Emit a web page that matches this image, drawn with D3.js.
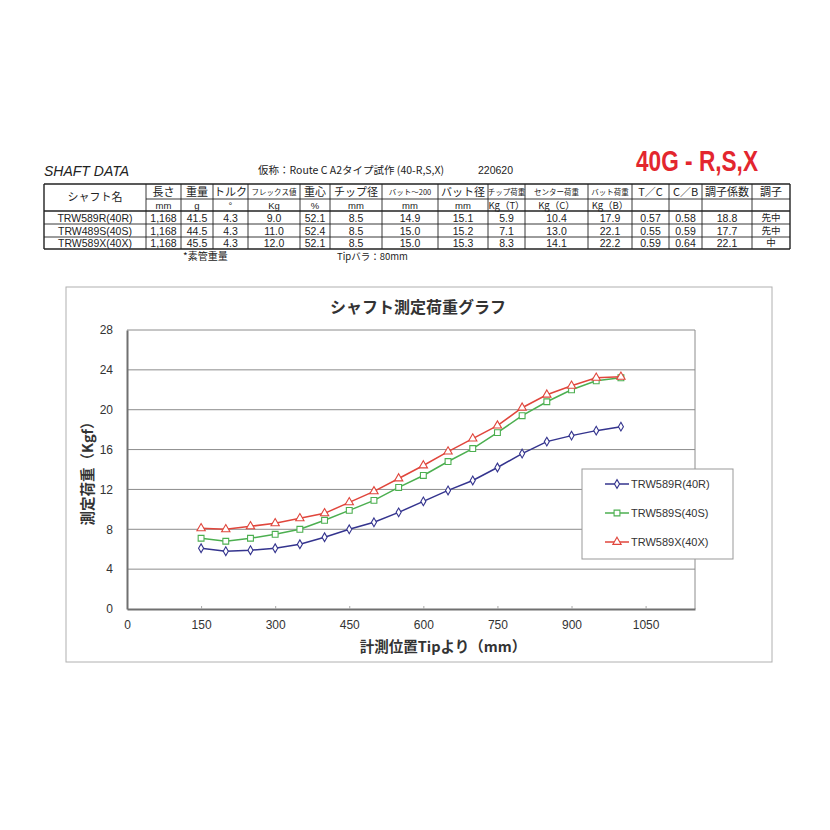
<!DOCTYPE html>
<html>
<head>
<meta charset="utf-8">
<script src="https://cdn.jsdelivr.net/npm/d3@7"></script>
<style>
  body { margin: 0; background: #fff; }
  svg { display: block; }
</style>
</head>
<body>
<svg id="chart" width="830" height="830"></svg>
<script>
// --- table data ---
const header1 = ['シャフト名', '長さ', '重量', 'トルク', 'フレックス値', '重心', 'チップ径', 'バット～200', 'バット径', 'チップ荷重', 'センター荷重', 'バット荷重', 'T／C', 'C／B', '調子係数', '調子'];
const header2 = ['', 'mm', 'g', '°', 'Kg', '%', 'mm', 'mm', 'mm', 'Kg（T）', 'Kg（C）', 'Kg（B）', '', '', '', ''];
const tableRows = [
  ['TRW589R(40R)', '1,168', '41.5', '4.3', '9.0', '52.1', '8.5', '14.9', '15.1', '5.9', '10.4', '17.9', '0.57', '0.58', '18.8', '先中'],
  ['TRW489S(40S)', '1,168', '44.5', '4.3', '11.0', '52.4', '8.5', '15.0', '15.2', '7.1', '13.0', '22.1', '0.55', '0.59', '17.7', '先中'],
  ['TRW589X(40X)', '1,168', '45.5', '4.3', '12.0', '52.1', '8.5', '15.0', '15.3', '8.3', '14.1', '22.2', '0.59', '0.64', '22.1', '中']
];
const smallHeads = ['フレックス値', 'バット～200', 'チップ荷重', 'センター荷重', 'バット荷重'];

// --- chart data ---
const positions = [150, 200, 250, 300, 350, 400, 450, 500, 550, 600, 650, 700, 750, 800, 850, 900, 950, 1000];
const seriesR = [6.1, 5.8, 5.9, 6.1, 6.5, 7.2, 8.0, 8.7, 9.7, 10.8, 11.9, 12.9, 14.2, 15.6, 16.8, 17.4, 17.9, 18.3];
const seriesS = [7.1, 6.8, 7.1, 7.5, 8.0, 8.9, 9.9, 10.9, 12.2, 13.4, 14.8, 16.1, 17.7, 19.4, 20.8, 22.0, 22.9, 23.2];
const seriesX = [8.1, 8.0, 8.3, 8.6, 9.1, 9.6, 10.7, 11.8, 13.1, 14.4, 15.8, 17.1, 18.4, 20.2, 21.5, 22.4, 23.2, 23.3];
const seriesNames = ['TRW589R(40R)', 'TRW589S(40S)', 'TRW589X(40X)'];
const xTicks = [0, 150, 300, 450, 600, 750, 900, 1050];
const yTicks = [0, 4, 8, 12, 16, 20, 24, 28];

const jp = '"Noto Sans CJK JP", "Noto Sans", sans-serif';
const lat = '"Liberation Sans", Arial, sans-serif';

const svg = d3.select('#chart');

// ---------- header texts ----------
svg.append('text')
  .attr('x', 44).attr('y', 176)
  .attr('font-family', lat).attr('font-style', 'italic')
  .attr('font-size', 14).attr('fill', '#222')
  .text('SHAFT DATA');

svg.append('text')
  .attr('x', 258).attr('y', 174)
  .attr('font-family', jp).attr('font-size', 10.5).attr('fill', '#222')
  .text('仮称：Route C A2タイプ試作 (40-R,S,X)');

svg.append('text')
  .attr('x', 478).attr('y', 174)
  .attr('font-family', lat).attr('font-size', 10.5).attr('fill', '#222')
  .text('220620');

svg.append('text')
  .attr('x', 636).attr('y', 171)
  .attr('font-family', '"Liberation Sans Narrow", "Liberation Sans", sans-serif')
  .attr('font-weight', 'bold').attr('font-size', 29).attr('fill', '#e3262e')
  .attr('textLength', 122).attr('lengthAdjust', 'spacingAndGlyphs')
  .text('40G - R,S,X');

// ---------- table ----------
const colEdges = [44, 146, 181, 213, 248, 300, 330, 382, 438, 488, 525, 588, 632, 669, 702, 752, 790];
const rowEdges = [184, 199, 211, 224, 237, 249];
const tbl = svg.append('g').attr('class', 'table');

// horizontal lines (no line under シャフト名 — it spans both header rows)
rowEdges.forEach((y, i) => {
  const x0 = i === 1 ? colEdges[1] : colEdges[0];
  tbl.append('line')
    .attr('x1', x0).attr('x2', colEdges[colEdges.length - 1])
    .attr('y1', y).attr('y2', y)
    .attr('stroke', '#222').attr('stroke-width', (i === 0 || i === 2 || i === 5) ? 1.4 : 0.9);
});
colEdges.forEach((x, i) => {
  tbl.append('line')
    .attr('x1', x).attr('x2', x)
    .attr('y1', rowEdges[0]).attr('y2', rowEdges[rowEdges.length - 1])
    .attr('stroke', '#222').attr('stroke-width', (i === 0 || i === colEdges.length - 1) ? 1.4 : 0.9);
});

const colMid = i => (colEdges[i] + colEdges[i + 1]) / 2;

header1.forEach((t, i) => {
  const small = smallHeads.includes(t);
  tbl.append('text')
    .attr('x', colMid(i))
    .attr('y', i === 0 ? 201 : (small ? 194.5 : 196))
    .attr('text-anchor', 'middle')
    .attr('font-family', jp)
    .attr('font-size', small ? 7.5 : 11)
    .attr('fill', '#222')
    .text(t);
});
header2.forEach((t, i) => {
  if (!t) return;
  tbl.append('text')
    .attr('x', colMid(i)).attr('y', 208.5)
    .attr('text-anchor', 'middle')
    .attr('font-family', t.includes('（') ? jp : lat)
    .attr('font-size', 9.5).attr('fill', '#222')
    .text(t);
});
tableRows.forEach((row, r) => {
  row.forEach((t, i) => {
    const isJp = /[先中]/.test(t);
    tbl.append('text')
      .attr('x', colMid(i)).attr('y', rowEdges[r + 3] - (isJp ? 3 : 2.5))
      .attr('text-anchor', 'middle')
      .attr('font-family', isJp ? jp : lat)
      .attr('font-size', isJp ? 9.5 : 10.5).attr('fill', '#222')
      .text(t);
  });
});

svg.append('text')
  .attr('x', 183).attr('y', 260)
  .attr('font-family', jp).attr('font-size', 10).attr('fill', '#222')
  .text('*素管重量');
svg.append('text')
  .attr('x', 337).attr('y', 260)
  .attr('font-family', jp).attr('font-size', 9.5).attr('fill', '#222')
  .text('Tipバラ：80mm');

// ---------- chart ----------
svg.append('rect')
  .attr('x', 66).attr('y', 287).attr('width', 706).attr('height', 375)
  .attr('fill', '#fff').attr('stroke', '#b0b0b0').attr('stroke-width', 1);

const plot = { left: 127, right: 695, top: 330, bottom: 609 };
const x = d3.scaleLinear().domain([0, 1150]).range([plot.left, plot.right]);
const y = d3.scaleLinear().domain([0, 28]).range([plot.bottom, plot.top]);

svg.append('text')
  .attr('x', 418).attr('y', 313)
  .attr('text-anchor', 'middle')
  .attr('font-family', jp).attr('font-weight', 'bold')
  .attr('font-size', 16).attr('fill', '#333')
  .text('シャフト測定荷重グラフ');

// gridlines
svg.append('g')
  .selectAll('line')
  .data(yTicks.filter(d => d > 0))
  .join('line')
  .attr('x1', plot.left).attr('x2', plot.right)
  .attr('y1', d => y(d)).attr('y2', d => y(d))
  .attr('stroke', '#8c8c8c').attr('stroke-width', 1);

svg.append('line')
  .attr('x1', plot.right).attr('x2', plot.right)
  .attr('y1', plot.top).attr('y2', plot.bottom)
  .attr('stroke', '#8c8c8c');

// axes
const xAxis = svg.append('g')
  .attr('transform', `translate(0,${plot.bottom})`)
  .call(d3.axisBottom(x).tickValues(xTicks).tickFormat(d3.format('d')).tickSize(3).tickPadding(8).tickSizeOuter(0));
const yAxis = svg.append('g')
  .attr('transform', `translate(${plot.left},0)`)
  .call(d3.axisLeft(y).tickValues(yTicks).tickSize(0).tickPadding(14));

[xAxis, yAxis].forEach(ax => {
  ax.select('.domain').attr('stroke', '#707070').attr('stroke-width', 2);
  ax.selectAll('.tick line').attr('stroke', '#aaa');
  ax.selectAll('.tick text')
    .attr('font-family', lat).attr('font-size', 12).attr('fill', '#333');
});
xAxis.selectAll('.tick line').attr('transform', 'translate(0,-3)');

svg.append('text')
  .attr('x', 443).attr('y', 652)
  .attr('text-anchor', 'middle')
  .attr('font-family', jp).attr('font-weight', 'bold')
  .attr('font-size', 14.5).attr('fill', '#333')
  .text('計測位置Tipより（mm）');

svg.append('text')
  .attr('transform', 'translate(93,470) rotate(-90)')
  .attr('text-anchor', 'middle')
  .attr('font-family', jp).attr('font-weight', 'bold')
  .attr('font-size', 14.5).attr('fill', '#333')
  .text('測定荷重（Kgf）');

// series
const series = [
  { name: seriesNames[0], values: seriesR, color: '#34348e', symbol: d3.symbolDiamond, size: 22 },
  { name: seriesNames[1], values: seriesS, color: '#4caf50', symbol: d3.symbolSquare, size: 34 },
  { name: seriesNames[2], values: seriesX, color: '#e0463c', symbol: d3.symbolTriangle, size: 30 }
];

const line = d3.line()
  .x(d => x(d[0]))
  .y(d => y(d[1]));

series.forEach(s => {
  const pts = positions.map((p, i) => [p, s.values[i]]);
  const g = svg.append('g');
  g.append('path')
    .attr('d', line(pts))
    .attr('fill', 'none')
    .attr('stroke', s.color).attr('stroke-width', 1.5);
  const sym = d3.symbol().type(s.symbol).size(s.size);
  g.selectAll('path.m')
    .data(pts)
    .join('path')
    .attr('class', 'm')
    .attr('transform', d => `translate(${x(d[0])},${y(d[1])})`)
    .attr('d', sym())
    .attr('fill', '#fff')
    .attr('stroke', s.color).attr('stroke-width', 1.1);
});

// legend
const legend = svg.append('g');
legend.append('rect')
  .attr('x', 582).attr('y', 469).attr('width', 151).attr('height', 90)
  .attr('fill', '#fff').attr('stroke', '#999');
series.forEach((s, i) => {
  const ly = 484 + i * 29;
  legend.append('line')
    .attr('x1', 605).attr('x2', 629).attr('y1', ly).attr('y2', ly)
    .attr('stroke', s.color).attr('stroke-width', 1.5);
  legend.append('path')
    .attr('transform', `translate(617,${ly})`)
    .attr('d', d3.symbol().type(s.symbol).size(s.size)())
    .attr('fill', '#fff').attr('stroke', s.color).attr('stroke-width', 1.1);
  legend.append('text')
    .attr('x', 631).attr('y', ly + 4)
    .attr('font-family', lat).attr('font-size', 11).attr('fill', '#333')
    .text(s.name);
});
</script>
</body>
</html>
